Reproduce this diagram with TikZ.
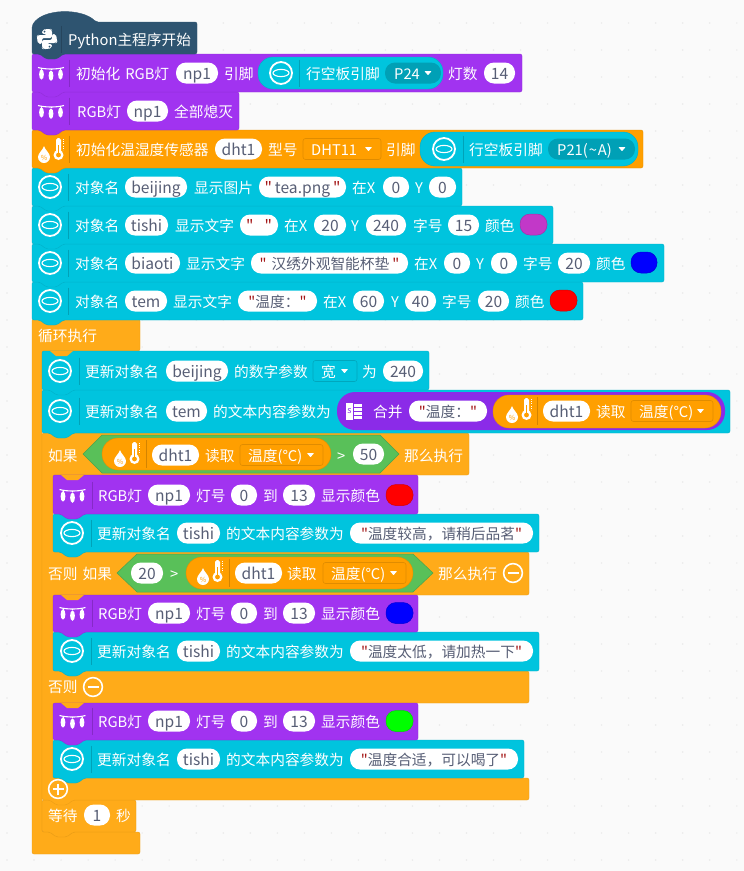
\documentclass[tikz,border=0pt]{standalone}
\usepackage{fontspec}
\setmainfont{Noto Sans CJK SC}
\newfontfamily\plainf{Noto Sans CJK SC}
\definecolor{bg}{HTML}{FAFAFA}
\definecolor{dotc}{HTML}{E9E9E9}
\definecolor{hatc}{HTML}{2E5470}
\definecolor{pur}{HTML}{A133F0}
\definecolor{mpur}{HTML}{8B2BE8}
\definecolor{cya}{HTML}{00C4DE}
\definecolor{cyad}{HTML}{00A0B6}
\definecolor{ora}{HTML}{FF9F00}
\definecolor{lop}{HTML}{FFAB19}
\definecolor{gre}{HTML}{59C059}
\definecolor{pilltx}{HTML}{575E75}
\definecolor{qred}{HTML}{A31515}
\definecolor{swp}{HTML}{C238C8}
\newcount\nn
\newcommand{\qq}{{\plainf\textcolor{qred}{"}}}
\newcommand{\strf}{\fontsize{14.7pt}{16pt}\selectfont}
\newcommand{\blk}[5]{\draw[draw=#1!90!black,fill=#1,line width=.4pt,rounded corners=2pt]
 (#2,#3)--(#4,#3)--(#4,#5)--({#2+31},#5)--({#2+25},{#5+5})--({#2+14},{#5+5})--({#2+8},#5)--(#2,#5)--cycle;}
\newcommand{\tabn}[3]{\fill[#1] ({#2+8},#3)--({#2+14},{#3+5})--({#2+25},{#3+5})--({#2+31},#3)--cycle;}
\newcommand{\lbl}[3]{\global\advance\nn by 1 \node[lblst] (n\the\nn) at (#1,#2) {#3};}
\newcommand{\pill}[4]{\global\advance\nn by 1 \node[pillst,minimum width={#2-#1}] (n\the\nn) at ({(#1+#2)/2},#3) {#4};}
\newcommand{\swatch}[4]{\global\advance\nn by 1 \node[swst,fill=#4,draw=#4!85!black,minimum width={#2-#1}] (n\the\nn) at ({(#1+#2)/2},#3) {};}
\newcommand{\tri}[2]{\fill[white,rounded corners=.4pt] ({#1-3.5},{#2-1.8})--({#1+3.5},{#2-1.8})--({#1},{#2+2.2})--cycle;}
\newcommand{\ddd}[6]{\draw[draw=#5,fill=#4,rounded corners=2.5pt,line width=.6pt] (#1,{#3-10.5}) rectangle (#2,{#3+10.5});
 \lbl{#1+8}{#3}{#6}\tri{#2-12.5}{#3}}
\newcommand{\dpill}[4]{\fill[cyad,rounded corners=10pt] (#1,{#3-10.5}) rectangle (#2,{#3+10.5});
 \lbl{#1+9}{#3}{#4}\tri{#2-13}{#3}}
\newcommand{\sepl}[2]{\draw[black,opacity=.17,line width=.8pt] (#1,{#2-13.5})--(#1,{#2+13.5});}
\newcommand{\icC}[2]{\draw[white,line width=1.8pt] (#1,#2) circle (11);
 \draw[white,line width=1.1pt] (#1,#2) ellipse (8 and 3.6);}
\newcommand{\icL}[2]{\begin{scope}[shift={(#1,#2)}]
 \draw[white,line width=1.1pt] (-13,-5.5) .. controls (-6,-3.5) and (6,-3.5) .. (13,-5.5);
 \foreach \a/\d in {-9.5/0,0/1.2,9.5/0}{\draw[white,line width=.9pt] (\a,-4.5)--(\a,-3);
  \fill[white] (\a,{1.4+\d}) ellipse (2.4 and 5.2);}
 \end{scope}}
\newcommand{\icT}[2]{\begin{scope}[shift={(#1,#2)}]
 \fill[white] (-7,-3) .. controls (-6,1) and (-1,4) .. (-1,8) arc (0:180:6) .. controls (-13,4) and (-8,1) .. cycle;
 \global\advance\nn by 1
 \node[inner sep=0,text=ora,font=\fontsize{7pt}{7pt}\selectfont] (n\the\nn) at (-7,8.5) {\%};
 \fill[white,rounded corners=1.8pt] (5,-11) rectangle (10,6);
 \fill[white] (7.5,6) circle (5);
 \fill[ora] (7.5,6) circle (2.4);
 \fill[ora] (6.8,-4) rectangle (8.2,6);
 \draw[white,line width=.8pt,dash pattern=on .8pt off 1.4pt] (12.2,-10)--(12.2,1);
 \end{scope}}
\newcommand{\circm}[2]{\draw[white,line width=1.6pt] (#1,#2) circle (9.4);\draw[white,line width=1.6pt] ({#1-5.5},#2)--({#1+5.5},#2);}
\newcommand{\circp}[2]{\circm{#1}{#2}\draw[white,line width=1.6pt] (#1,{#2-5.5})--(#1,{#2+5.5});}
\tikzset{
 lblst/.style={anchor=west,inner sep=0pt,text=white,text height=13pt,text depth=1pt},
 pillst/.style={fill=white,rounded corners=10pt,inner sep=0pt,minimum height=21pt,text=pilltx,text height=13pt,text depth=1pt,font=\fontsize{15.6pt}{16pt}\selectfont},
 swst/.style={rounded corners=10pt,inner sep=0pt,minimum height=21pt,line width=.5pt},
}
\begin{document}
\begin{tikzpicture}[x=1pt,y=-1pt,font=\fontsize{14.7pt}{16pt}\selectfont]
\useasboundingbox (0,0) rectangle (744,871);
\fill[bg] (0,0) rectangle (744,871);
\foreach \i in {0,...,27}{\foreach \j in {0,...,31}{\fill[dotc] ({7+27.03*\i},{23+27*\j}) circle (.8);}}
% ---- loop
\draw[draw=lop!92!black,fill=lop,line width=.4pt,rounded corners=2pt] (32,319)--(140,319)--(140,351)--(42,351)--(42,832)--(140,832)--(140,854)--(32,854)--cycle;
\blk{lop}{42}{800}{136}{832}
% ---- if
\draw[draw=lop!92!black,fill=lop,line width=.4pt,rounded corners=2pt] (42,433)--(469,433)--(469,475)--(53,475)--(53,552)--(529,552)--(529,595)--(53,595)--(53,671)--(529,671)--(529,703)--(53,703)--(53,778)--(529,778)--(529,800)--(73,800)--(67,805)--(56,805)--(50,800)--(42,800)--cycle;
\blk{cya}{53}{740}{524}{778}
\blk{pur}{53}{703}{418}{740}
\tabn{lop}{53}{703}
\blk{cya}{53}{632}{539}{671}
\blk{pur}{53}{595}{418}{632}
\tabn{lop}{53}{595}
\blk{cya}{53}{514}{539}{552}
\blk{pur}{53}{475}{418}{514}
\tabn{lop}{53}{475}
\blk{cya}{42}{390}{730}{433}
\blk{cya}{42}{351}{429}{390}
\tabn{lop}{42}{351}
\blk{cya}{32}{282}{583}{320}
\blk{cya}{32}{244}{664}{282}
\blk{cya}{32}{206}{553}{244}
\blk{cya}{32}{168}{462}{206}
\blk{ora}{32}{130}{643}{168}
\blk{pur}{32}{92}{239}{130}
\blk{pur}{32}{54}{522}{92}
% ---- hat
\draw[draw=hatc,fill=hatc,line width=.4pt,rounded corners=2pt] (32,54)--(32,30)--(32,26) .. controls (42,8) and (82,8) .. (96,22)--(197,22)--(197,54)--(63,54)--(57,59)--(46,59)--(40,54)--cycle;
\begin{scope}[shift={(47,39)}]
\fill[white,rounded corners=2pt] (-1,-10) -- (4,-10) -- (5,-9) -- (5,-1) -- (-5,-1) -- (-5,0) -- (-5,5) -- (-9,5) -- (-10,-1) -- (-10,-3) -- (-9,-4) -- (0,-4) -- (0,-5) -- (-5,-5) -- (-5,-9) -- cycle;
\fill[white,rounded corners=2pt] (1,10) -- (-4,10) -- (-5,9) -- (-5,1) -- (5,1) -- (5,-5) -- (9,-5) -- (10,1) -- (10,3) -- (9,4) -- (0,4) -- (0,5) -- (5,5) -- (5,9) -- cycle;
\fill[hatc] (-2.5,-7.5) circle (1);\fill[hatc] (2.5,7.5) circle (1);
\end{scope}
\sepl{61}{39}
\lbl{68}{39}{Python主程序开始}
% ---- row 1
\icL{51}{73}\sepl{69}{73}
\lbl{76}{73}{初始化\hspace{5pt}RGB灯}\pill{176}{218}{73}{np1}\lbl{224}{73}{引脚}
\fill[cya,draw=cya!90!black,line width=.4pt,rounded corners=15pt] (258,57) rectangle (443,89);
\icC{281}{73}\sepl{299}{73}\lbl{306}{73}{行空板引脚}
\dpill{385}{441}{73}{P24}
\lbl{448}{73}{灯数}\pill{484}{515}{73}{14}
% ---- row 2
\icL{51}{111}\sepl{69}{111}
\lbl{77}{111}{RGB灯}\pill{127}{168}{111}{np1}\lbl{174}{111}{全部熄灭}
% ---- row 3
\icT{51}{149}\sepl{69}{149}
\lbl{76}{149}{初始化温湿度传感器}\pill{215}{262}{149}{dht1}\lbl{268}{149}{型号}
\ddd{303}{381}{149}{ora}{ora!88!black}{DHT11}
\lbl{386}{149}{引脚}
\fill[cya,draw=cya!90!black,line width=.4pt,rounded corners=15pt] (420,132) rectangle (638,166);
\icC{444}{149}\sepl{463}{149}\lbl{469}{149}{行空板引脚}
\dpill{548}{635}{149}{P21(\hspace{1pt}\textasciitilde\hspace{1pt}A)}
% ---- row 4
\icC{50}{187}\sepl{68}{187}
\lbl{75}{187}{对象名}\pill{125}{187}{187}{beijing}\lbl{194}{187}{显示图片}
\pill{259}{346}{187}{\qq\hspace{3pt}tea.png\hspace{3pt}\qq}\lbl{352}{187}{在X}\pill{383}{409}{187}{0}\lbl{415}{187}{Y}\pill{429}{456}{187}{0}
% ---- row 5
\icC{50}{225}\sepl{68}{225}
\lbl{75}{225}{对象名}\pill{125}{168}{225}{tishi}\lbl{175}{225}{显示文字}
\pill{240}{278}{225}{\qq\hspace{11pt}\qq}\lbl{284}{225}{在X}\pill{314}{346}{225}{20}\lbl{351}{225}{Y}\pill{366}{406}{225}{240}
\lbl{413}{225}{字号}\pill{448}{479}{225}{15}\lbl{485}{225}{颜色}\swatch{520}{547}{224.5}{swp}
% ---- row 6
\icC{50}{263}\sepl{68}{263}
\lbl{75}{263}{对象名}\pill{125}{180}{263}{biaoti}\lbl{186}{263}{显示文字}
\pill{251}{408}{263}{\strf\qq\hspace{5pt}汉绣外观智能杯垫\hspace{3pt}\qq}\lbl{414}{263}{在X}\pill{444}{470}{263}{0}\lbl{476}{263}{Y}\pill{491}{517}{263}{0}
\lbl{523}{263}{字号}\pill{558}{590}{263}{20}\lbl{596}{263}{颜色}\swatch{631}{657}{262.5}{blue}
% ---- row 7
\icC{50}{301}\sepl{68}{301}
\lbl{75}{301}{对象名}\pill{125}{167}{301}{tem}\lbl{173}{301}{显示文字}
\pill{238}{317}{301}{\strf\qq 温度：\qq}\lbl{323}{301}{在X}\pill{353}{384}{301}{60}\lbl{391}{301}{Y}\pill{405}{436}{301}{40}
\lbl{442}{301}{字号}\pill{478}{509}{301}{20}\lbl{515}{301}{颜色}\swatch{550}{577}{300.5}{red}
% ---- loop label
\lbl{38}{335}{循环执行}
% ---- update beijing
\icC{60}{371}\sepl{79}{371}
\lbl{85}{371}{更新对象名}\pill{166}{228}{371}{beijing}\lbl{234}{371}{的数字参数}
\ddd{313}{357}{371}{cya}{cya!85!black}{宽}
\lbl{362}{371}{为}\pill{383}{423}{371}{240}
% ---- update tem
\icC{60}{411}\sepl{79}{411}
\lbl{85}{411}{更新对象名}\pill{166}{207}{411}{tem}\lbl{213}{411}{的文本内容参数为}
\fill[mpur,rounded corners=18pt] (337,392) rectangle (725,430);
\begin{scope}[shift={(354,411)}]
\fill[white] (-8,-8.5) rectangle (-1,8.5);
\fill[white] (0,-7) rectangle (8,-4.5);\fill[white] (0,-3) rectangle (8,-.5);\fill[white] (0,1) rectangle (8,3.5);\fill[white] (0,5) rectangle (8,7.5);
\global\advance\nn by 1
\node[inner sep=0,text=mpur,font=\fontsize{9pt}{9pt}\selectfont] (n\the\nn) at (-4.5,0) {s};
\end{scope}
\lbl{373}{411}{合并}\pill{409}{487}{411}{\strf\qq 温度：\qq}
\fill[ora,draw=ora!90!black,line width=.4pt,rounded corners=16pt] (493,395) rectangle (721,428);
\icT{519}{409}\draw[black,opacity=.17,line width=.8pt] (537,397)--(537,425);
\pill{543}{590}{411}{dht1}\lbl{596}{411}{读取}
\ddd{631}{713}{411}{ora}{ora!88!black}{温度(℃)}
% ---- if row
\lbl{48}{455}{如果}
\draw[fill=gre,draw=gre!85!black,line width=.5pt] (83,454)--(102,435)--(380,435)--(399,454)--(380,473)--(102,473)--cycle;
\fill[ora,draw=ora!90!black,line width=.4pt,rounded corners=16pt] (102,438) rectangle (331,470);
\icT{127}{453}\draw[black,opacity=.17,line width=.8pt] (146,440)--(146,468);
\pill{152}{199}{455}{dht1}\lbl{205}{455}{读取}
\ddd{240}{323}{455}{ora}{ora!88!black}{温度(℃)}
\lbl{337}{455}{>}\pill{353}{384}{454}{50}\lbl{404}{455}{那么执行}
% ---- purple 1
\icL{72.5}{495}\sepl{92}{495}
\lbl{98}{495}{RGB灯}\pill{148}{190}{495}{np1}\lbl{196}{495}{灯号}\pill{231}{257}{495}{0}\lbl{263}{495}{到}\pill{283}{315}{495}{13}\lbl{321}{495}{显示颜色}\swatch{386}{413}{495}{red}
% ---- cyan 1
\icC{72}{533}\sepl{91}{533}
\lbl{97}{533}{更新对象名}\pill{177}{220}{533}{tishi}\lbl{226}{533}{的文本内容参数为}
\pill{350}{533}{533}{\strf\qq 温度较高，请稍后品茗\qq}
% ---- else if row
\lbl{48}{573}{否则\hspace{5pt}如果}
\draw[fill=gre,draw=gre!85!black,line width=.5pt] (117,573)--(137,554)--(413,554)--(433,573)--(413,592)--(137,592)--cycle;
\pill{131}{163}{573}{20}\lbl{170}{573}{>}
\fill[ora,draw=ora!90!black,line width=.4pt,rounded corners=16pt] (186,557) rectangle (413,589);
\icT{210}{571}\draw[black,opacity=.17,line width=.8pt] (229,559)--(229,587);
\pill{235}{282}{573}{dht1}\lbl{287}{573}{读取}
\ddd{323}{406}{573}{ora}{ora!88!black}{温度(℃)}
\lbl{438}{573}{那么执行}\circm{513}{573}
% ---- purple 2
\icL{72.5}{613}\sepl{92}{613}
\lbl{98}{613}{RGB灯}\pill{148}{190}{613}{np1}\lbl{196}{613}{灯号}\pill{231}{257}{613}{0}\lbl{263}{613}{到}\pill{283}{315}{613}{13}\lbl{321}{613}{显示颜色}\swatch{386}{413}{613}{blue}
% ---- cyan 2
\icC{72}{651}\sepl{91}{651}
\lbl{97}{651}{更新对象名}\pill{177}{220}{651}{tishi}\lbl{226}{651}{的文本内容参数为}
\pill{350}{533}{651}{\strf\qq 温度太低，请加热一下\qq}
% ---- else row
\lbl{48}{686}{否则}\circm{93}{687}
% ---- purple 3
\icL{72.5}{721}\sepl{92}{721}
\lbl{98}{721}{RGB灯}\pill{148}{190}{721}{np1}\lbl{196}{721}{灯号}\pill{231}{257}{721}{0}\lbl{263}{721}{到}\pill{283}{315}{721}{13}\lbl{321}{721}{显示颜色}\swatch{386}{413}{721}{green}
% ---- cyan 3
\icC{72}{759}\sepl{91}{759}
\lbl{97}{759}{更新对象名}\pill{177}{220}{759}{tishi}\lbl{226}{759}{的文本内容参数为}
\pill{350}{518}{759}{\strf\qq 温度合适，可以喝了\qq}
% ---- end
\circp{58}{789}
\lbl{48}{815}{等待}\pill{84}{110}{815}{1}\lbl{116}{815}{秒}
\end{tikzpicture}
\end{document}
